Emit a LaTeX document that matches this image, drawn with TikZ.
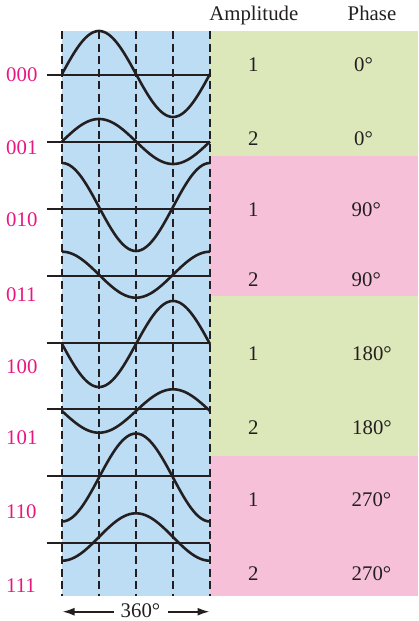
\documentclass[tikz,border=0pt]{standalone}
\usepackage{fontspec}
\setmainfont{Liberation Serif}
\usetikzlibrary{arrows.meta}
\definecolor{bgblue}{HTML}{BDDDF4}
\definecolor{bggreen}{HTML}{DCE7BA}
\definecolor{bgpink}{HTML}{F6C1D8}
\definecolor{lblmag}{HTML}{E8177F}
\definecolor{ink}{HTML}{231F20}
\tikzset{
  wave/.style={line width=2.6pt, draw=ink, line join=round},
  axisline/.style={line width=1.7pt, draw=ink},
  grid/.style={line width=1.6pt, draw=ink, dash pattern=on 8pt off 4.5pt},
  bitlbl/.style={anchor=base west, inner sep=0pt, text=lblmag, font=\fontsize{20.8}{24}\selectfont},
  val/.style={anchor=base, inner sep=0pt, text=ink, font=\fontsize{20.8}{24}\selectfont},
  phv/.style={anchor=base west, inner sep=0pt, text=ink, font=\fontsize{20.8}{24}\selectfont},
  dimarrow/.style={line width=1.8pt, draw=ink, -{Latex[length=12pt,width=8pt]}}
}
\begin{document}
\begin{tikzpicture}[x=1pt,y=-1pt]
\useasboundingbox (0,0) rectangle (418,621);
% backgrounds
\fill[bgblue] (62,31) rectangle (210,596);
\fill[bggreen] (210,31) rectangle (418,155.7);
\fill[bgpink] (210,155.7) rectangle (418,295.7);
\fill[bggreen] (210,295.7) rectangle (418,455.7);
\fill[bgpink] (210,455.7) rectangle (418,596);
% dashed verticals
\foreach \xx in {62,99,136,173,210}
  \draw[grid] (\xx,31) -- (\xx,596);
% baselines
\foreach \yy in {75,141.7,209,275.7,342.7,409.3,476,542.7}
  \draw[axisline] (47,\yy) -- (210,\yy);
% waves: center, amplitude, phase
\foreach \c/\A/\p in {74/43/0, 141.5/22.5/0, 207/44/90, 274.7/23/90, 344/43/180, 411/21.7/180, 477.5/44/270, 537/23.7/270}
  \draw[wave] plot[domain=0:360, samples=91, smooth] ({62+\x/360*148}, {\c-\A*sin(\x+\p)});
% bit labels
\node[bitlbl] (b000) at (6,81.7) {000};
\node[bitlbl] (b001) at (6,154.3) {001};
\node[bitlbl] (b010) at (6,226) {010};
\node[bitlbl] (b011) at (6,301) {011};
\node[bitlbl] (b100) at (6,373.3) {100};
\node[bitlbl] (b101) at (6,444) {101};
\node[bitlbl] (b110) at (6,518.3) {110};
\node[bitlbl] (b111) at (6,592.7) {111};
% headers
\node[val] (hamp) at (253.8,20.7) {Amplitude};
\node[val] (hph) at (372,20.7) {Phase};
% amplitude values
\node[val] (a1) at (253.3,71) {1};
\node[val] (a2) at (253.3,145.7) {2};
\node[val] (a3) at (253.3,216.7) {1};
\node[val] (a4) at (253.3,286.7) {2};
\node[val] (a5) at (253.3,360) {1};
\node[val] (a6) at (253.3,434) {2};
\node[val] (a7) at (253.3,506.7) {1};
\node[val] (a8) at (253.3,580) {2};
% phase values
\node[phv] (p1) at (354,71) {0°};
\node[phv] (p2) at (354,145.7) {0°};
\node[phv] (p3) at (351.5,216.7) {90°};
\node[phv] (p4) at (351.5,286.7) {90°};
\node[phv] (p5) at (352,360) {180°};
\node[phv] (p6) at (352,434) {180°};
\node[phv] (p7) at (351.5,506.7) {270°};
\node[phv] (p8) at (351.5,580) {270°};
% 360 dimension
\node[phv] (deg) at (120.5,617.3) {360°};
\coordinate (dl) at (114,611.7);
\coordinate (dlt) at (62.5,611.7);
\coordinate (dr) at (168,611.7);
\coordinate (drt) at (209.5,611.7);
\draw[dimarrow] (dl) -- (dlt);
\draw[dimarrow] (dr) -- (drt);
\end{tikzpicture}
\end{document}
